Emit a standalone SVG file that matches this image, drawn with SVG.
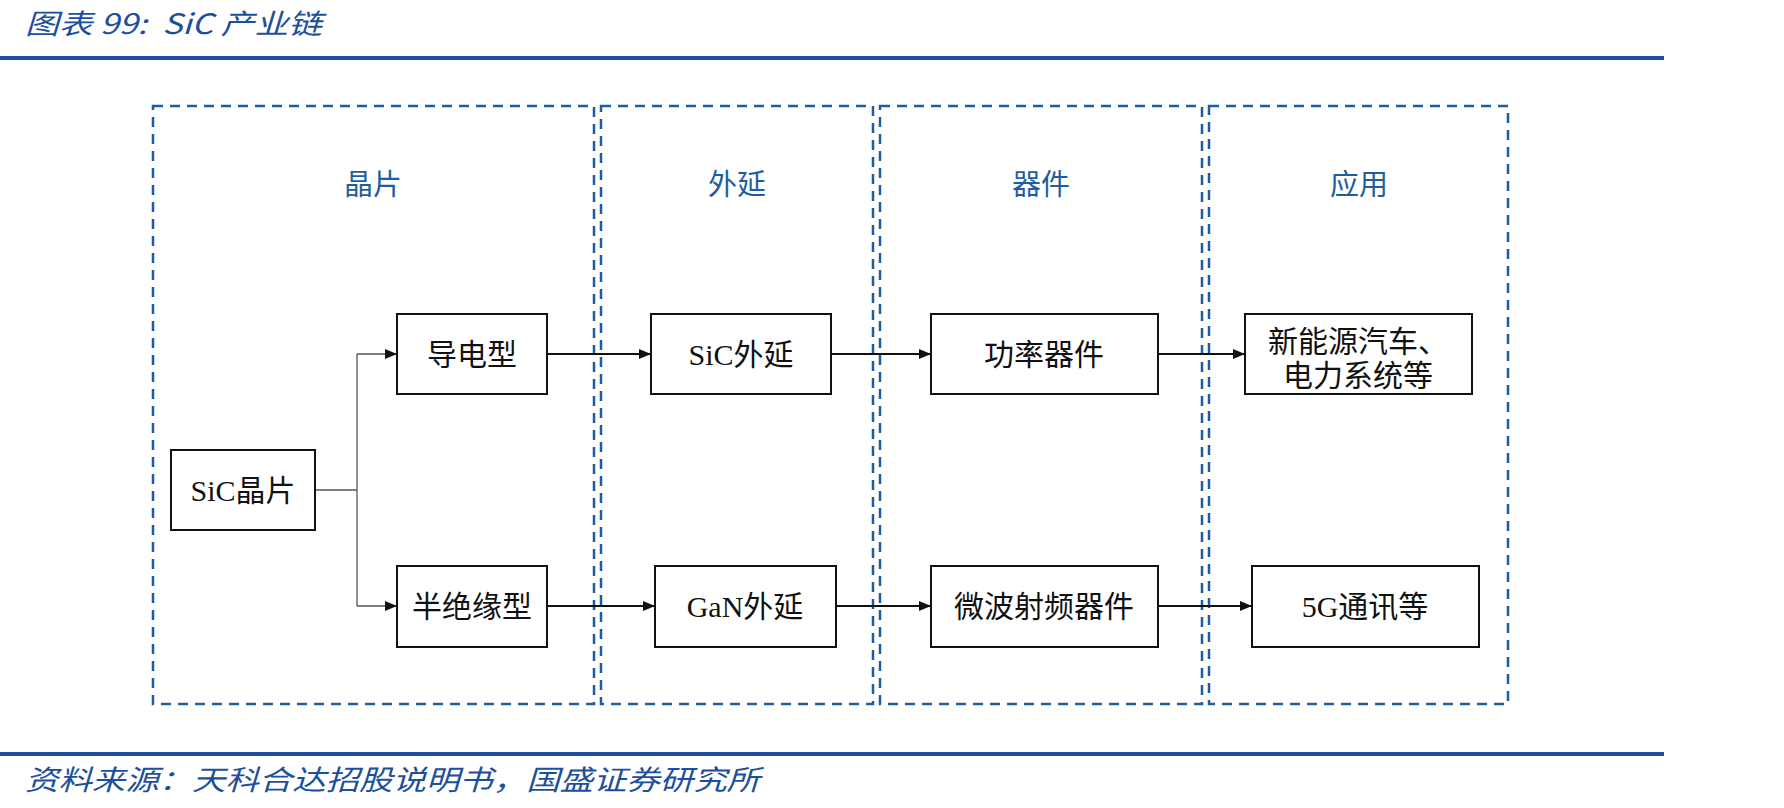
<svg xmlns="http://www.w3.org/2000/svg" width="1784" height="808" viewBox="0 0 1784 808">
<style>
.region{fill:none;stroke:#1f5e9e;stroke-width:2.5;stroke-dasharray:10 7}
.box{fill:#fff;stroke:#111;stroke-width:2}
.bt{font-family:"Liberation Serif","Noto Sans CJK SC",serif;font-size:30px;fill:#111;text-anchor:middle}
.sec{font-family:"Noto Sans CJK SC",sans-serif;font-size:29px;fill:#1f5e9e;text-anchor:middle}
.hdr{font-family:"Noto Sans CJK SC",sans-serif;font-style:italic;fill:#1c4f9c}
.main{fill:none;stroke:#111;stroke-width:2}
.thin{fill:none;stroke:#555;stroke-width:1.3}
</style>
<defs>
<marker id="ah" markerWidth="12" markerHeight="10" refX="11" refY="5" orient="auto" markerUnits="userSpaceOnUse">
<path d="M0,0 L12,5 L0,10 Z" fill="#111"/>
</marker>
</defs>
<rect width="1784" height="808" fill="#fff"/>
<g id="header">
<text class="hdr" x="25" y="34" font-size="28" xml:space="preserve" textLength="297" lengthAdjust="spacingAndGlyphs">图表 99:  SiC 产业链</text>
<rect x="0" y="56" width="1664" height="4" fill="#1c4e9d"/>
</g>
<g id="regions">
<rect class="region" x="153" y="106" width="441" height="598"/>
<rect class="region" x="601" y="106" width="272" height="598"/>
<rect class="region" x="880" y="106" width="322" height="598"/>
<rect class="region" x="1209" y="106" width="299" height="598"/>
<text class="sec" x="373" y="195">晶片</text>
<text class="sec" x="737" y="195">外延</text>
<text class="sec" x="1041" y="195">器件</text>
<text class="sec" x="1359" y="195">应用</text>
</g>
<g id="connectors">
<polyline class="thin" points="315,490 357,490"/>
<polyline class="thin" points="357,354 357,606"/>
<polyline class="thin" points="357,354 396,354" marker-end="url(#ah)"/>
<polyline class="thin" points="357,606 396,606" marker-end="url(#ah)"/>
<line class="main" x1="547" y1="354" x2="650" y2="354" marker-end="url(#ah)"/>
<line class="main" x1="831" y1="354" x2="930" y2="354" marker-end="url(#ah)"/>
<line class="main" x1="1158" y1="354" x2="1244" y2="354" marker-end="url(#ah)"/>
<line class="main" x1="547" y1="606" x2="654" y2="606" marker-end="url(#ah)"/>
<line class="main" x1="836" y1="606" x2="930" y2="606" marker-end="url(#ah)"/>
<line class="main" x1="1158" y1="606" x2="1251" y2="606" marker-end="url(#ah)"/>
</g>
<g id="n-sic-wafer"><rect class="box" x="171" y="450" width="144" height="80"/><text class="bt" x="243" y="501">SiC晶片</text></g>
<g id="n-conductive"><rect class="box" x="397" y="314" width="150" height="80"/><text class="bt" x="472" y="365">导电型</text></g>
<g id="n-semi"><rect class="box" x="397" y="566" width="150" height="81"/><text class="bt" x="472" y="617">半绝缘型</text></g>
<g id="n-sic-epi"><rect class="box" x="651" y="314" width="180" height="80"/><text class="bt" x="741" y="365">SiC外延</text></g>
<g id="n-gan-epi"><rect class="box" x="655" y="566" width="181" height="81"/><text class="bt" x="745" y="617">GaN外延</text></g>
<g id="n-power"><rect class="box" x="931" y="314" width="227" height="80"/><text class="bt" x="1044" y="365">功率器件</text></g>
<g id="n-rf"><rect class="box" x="931" y="566" width="227" height="81"/><text class="bt" x="1044" y="617">微波射频器件</text></g>
<g id="n-ev"><rect class="box" x="1245" y="314" width="227" height="80"/><text class="bt" x="1358" y="352">新能源汽车、</text><text class="bt" x="1358" y="386">电力系统等</text></g>
<g id="n-5g"><rect class="box" x="1252" y="566" width="227" height="81"/><text class="bt" x="1365" y="617">5G通讯等</text></g>
<g id="footer">
<rect x="0" y="752" width="1664" height="4" fill="#1c4e9d"/>
<text class="hdr" x="25" y="790" font-size="28" textLength="735" lengthAdjust="spacingAndGlyphs">资料来源：天科合达招股说明书，国盛证券研究所</text>
</g>
</svg>
